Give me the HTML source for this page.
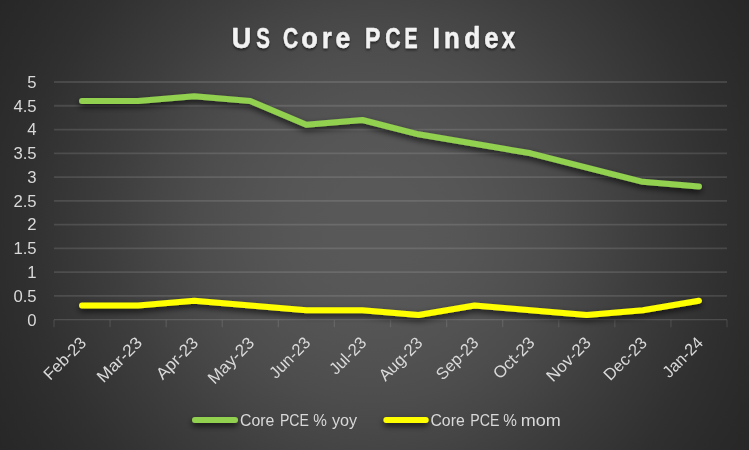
<!DOCTYPE html>
<html lang="en">
<head>
<meta charset="utf-8">
<title>US Core PCE Index</title>
<style>
html,body{margin:0;padding:0;background:#272727;}
body{width:749px;height:450px;overflow:hidden;}
#chart{display:block;width:749px;height:450px;}
text{font-family:"Liberation Sans",Arial,sans-serif;}
.ax{fill:#d9d9d9;font-size:16.7px;}
.title{fill:#f2f2f2;font-size:29.9px;font-weight:bold;stroke:#f2f2f2;stroke-width:0.5px;stroke-linejoin:round;}
.lg{fill:#d9d9d9;font-size:16.9px;}
</style>
</head>
<body>
<svg id="chart" width="749" height="450" viewBox="0 0 749 450">
<defs>
<radialGradient id="bg" gradientUnits="userSpaceOnUse" cx="374.5" cy="225" r="437">
<stop offset="0" stop-color="#585858"/>
<stop offset="0.1" stop-color="#585858"/>
<stop offset="0.2" stop-color="#565656"/>
<stop offset="0.3" stop-color="#525252"/>
<stop offset="0.4" stop-color="#4d4d4d"/>
<stop offset="0.5" stop-color="#464646"/>
<stop offset="0.6" stop-color="#3e3e3e"/>
<stop offset="0.7" stop-color="#373737"/>
<stop offset="0.8" stop-color="#303030"/>
<stop offset="0.9" stop-color="#2b2b2b"/>
<stop offset="1.0" stop-color="#272727"/>
</radialGradient>
<filter id="sh" filterUnits="userSpaceOnUse" x="0" y="0" width="749" height="450">
<feGaussianBlur in="SourceAlpha" stdDeviation="3"/>
<feOffset dx="0" dy="3"/>
<feComponentTransfer><feFuncA type="linear" slope="0.72"/></feComponentTransfer>
<feMerge><feMergeNode/><feMergeNode in="SourceGraphic"/></feMerge>
</filter>
<filter id="tsh" filterUnits="userSpaceOnUse" x="0" y="0" width="749" height="100">
<feGaussianBlur in="SourceAlpha" stdDeviation="1.2"/>
<feOffset dx="0" dy="1.5"/>
<feComponentTransfer><feFuncA type="linear" slope="0.5"/></feComponentTransfer>
<feMerge><feMergeNode/><feMergeNode in="SourceGraphic"/></feMerge>
</filter>
</defs>
<rect x="0" y="0" width="749" height="450" fill="url(#bg)"/>

<g stroke="#f2f2f2" stroke-opacity="0.13" stroke-width="1.8" fill="none">
<line x1="54.0" y1="295.93" x2="727.0" y2="295.93"/>
<line x1="54.0" y1="272.16" x2="727.0" y2="272.16"/>
<line x1="54.0" y1="248.39" x2="727.0" y2="248.39"/>
<line x1="54.0" y1="224.62" x2="727.0" y2="224.62"/>
<line x1="54.0" y1="200.85" x2="727.0" y2="200.85"/>
<line x1="54.0" y1="177.08" x2="727.0" y2="177.08"/>
<line x1="54.0" y1="153.31" x2="727.0" y2="153.31"/>
<line x1="54.0" y1="129.54" x2="727.0" y2="129.54"/>
<line x1="54.0" y1="105.77" x2="727.0" y2="105.77"/>
<line x1="54.0" y1="82.00" x2="727.0" y2="82.00"/>
</g>
<g stroke="#f2f2f2" stroke-opacity="0.15" stroke-width="1.3" fill="none">
<line x1="54.0" y1="319.7" x2="727.0" y2="319.7"/>
</g>
<g stroke="#f2f2f2" stroke-opacity="0.11" stroke-width="1.3" fill="none">
<line x1="54.00" y1="319.7" x2="54.00" y2="327.2"/>
<line x1="110.08" y1="319.7" x2="110.08" y2="327.2"/>
<line x1="166.17" y1="319.7" x2="166.17" y2="327.2"/>
<line x1="222.25" y1="319.7" x2="222.25" y2="327.2"/>
<line x1="278.33" y1="319.7" x2="278.33" y2="327.2"/>
<line x1="334.42" y1="319.7" x2="334.42" y2="327.2"/>
<line x1="390.50" y1="319.7" x2="390.50" y2="327.2"/>
<line x1="446.58" y1="319.7" x2="446.58" y2="327.2"/>
<line x1="502.67" y1="319.7" x2="502.67" y2="327.2"/>
<line x1="558.75" y1="319.7" x2="558.75" y2="327.2"/>
<line x1="614.83" y1="319.7" x2="614.83" y2="327.2"/>
<line x1="670.92" y1="319.7" x2="670.92" y2="327.2"/>
<line x1="727.00" y1="319.7" x2="727.00" y2="327.2"/>
</g>
<polyline points="82.04,101.02 138.12,101.02 194.21,96.26 250.29,101.02 306.38,124.79 362.46,120.03 418.54,134.29 474.62,143.80 530.71,153.31 586.79,167.57 642.88,181.83 698.96,186.59" fill="none" stroke="#92d050" stroke-width="6" stroke-linecap="round" stroke-linejoin="round" filter="url(#sh)"/>
<polyline points="82.04,305.44 138.12,305.44 194.21,300.68 250.29,305.44 306.38,310.19 362.46,310.19 418.54,314.95 474.62,305.44 530.71,310.19 586.79,314.95 642.88,310.19 698.96,300.68" fill="none" stroke="#ffff00" stroke-width="6" stroke-linecap="round" stroke-linejoin="round" filter="url(#sh)"/>
<g class="ax" text-anchor="end">
<text x="36.6" y="325.50">0</text>
<text x="36.6" y="301.73">0.5</text>
<text x="36.6" y="277.96">1</text>
<text x="36.6" y="254.19">1.5</text>
<text x="36.6" y="230.42">2</text>
<text x="36.6" y="206.65">2.5</text>
<text x="36.6" y="182.88">3</text>
<text x="36.6" y="159.11">3.5</text>
<text x="36.6" y="135.34">4</text>
<text x="36.6" y="111.57">4.5</text>
<text x="36.6" y="87.80">5</text>
</g>
<g class="ax">
<text transform="translate(87.14,343.90) rotate(-45)" x="-52.31" textLength="52.31" lengthAdjust="spacingAndGlyphs">Feb-23</text>
<text transform="translate(143.22,343.90) rotate(-45)" x="-56.07" textLength="56.07" lengthAdjust="spacingAndGlyphs">Mar-23</text>
<text transform="translate(199.31,343.90) rotate(-45)" x="-51.77" textLength="51.77" lengthAdjust="spacingAndGlyphs">Apr-23</text>
<text transform="translate(255.39,343.90) rotate(-45)" x="-58.01" textLength="58.01" lengthAdjust="spacingAndGlyphs">May-23</text>
<text transform="translate(311.48,343.90) rotate(-45)" x="-50.20" textLength="50.20" lengthAdjust="spacingAndGlyphs">Jun-23</text>
<text transform="translate(367.56,343.90) rotate(-45)" x="-44.68" textLength="44.68" lengthAdjust="spacingAndGlyphs">Jul-23</text>
<text transform="translate(423.64,343.90) rotate(-45)" x="-54.05" textLength="54.05" lengthAdjust="spacingAndGlyphs">Aug-23</text>
<text transform="translate(479.73,343.90) rotate(-45)" x="-52.31" textLength="52.31" lengthAdjust="spacingAndGlyphs">Sep-23</text>
<text transform="translate(535.81,343.90) rotate(-45)" x="-51.16" textLength="51.16" lengthAdjust="spacingAndGlyphs">Oct-23</text>
<text transform="translate(591.89,343.90) rotate(-45)" x="-54.98" textLength="54.98" lengthAdjust="spacingAndGlyphs">Nov-23</text>
<text transform="translate(647.98,343.90) rotate(-45)" x="-53.32" textLength="53.32" lengthAdjust="spacingAndGlyphs">Dec-23</text>
<text transform="translate(704.06,343.90) rotate(-45)" x="-49.34" textLength="49.34" lengthAdjust="spacingAndGlyphs">Jan-24</text>
</g>
<text class="title" y="47.7" filter="url(#tsh)"><tspan x="231.78" textLength="19.53" lengthAdjust="spacingAndGlyphs">U</tspan><tspan x="256.23" textLength="13.66" lengthAdjust="spacingAndGlyphs">S</tspan> <tspan x="283.09" textLength="15.16" lengthAdjust="spacingAndGlyphs">C</tspan><tspan x="301.30" textLength="16.64" lengthAdjust="spacingAndGlyphs">o</tspan><tspan x="321.97" textLength="9.84" lengthAdjust="spacingAndGlyphs">r</tspan><tspan x="335.52" textLength="14.79" lengthAdjust="spacingAndGlyphs">e</tspan> <tspan x="365.11" textLength="15.34" lengthAdjust="spacingAndGlyphs">P</tspan><tspan x="385.18" textLength="15.37" lengthAdjust="spacingAndGlyphs">C</tspan><tspan x="404.62" textLength="13.15" lengthAdjust="spacingAndGlyphs">E</tspan> <tspan x="432.57" textLength="7.47" lengthAdjust="spacingAndGlyphs">I</tspan><tspan x="443.94" textLength="15.76" lengthAdjust="spacingAndGlyphs">n</tspan><tspan x="464.13" textLength="16.11" lengthAdjust="spacingAndGlyphs">d</tspan><tspan x="484.14" textLength="14.35" lengthAdjust="spacingAndGlyphs">e</tspan><tspan x="501.65" textLength="13.45" lengthAdjust="spacingAndGlyphs">x</tspan></text>
<line x1="195" y1="420" x2="235" y2="420" stroke="#92d050" stroke-width="6" stroke-linecap="round" filter="url(#sh)"/>
<text class="lg" y="425.7"><tspan x="240.01" textLength="34.39" lengthAdjust="spacingAndGlyphs">Core</tspan> <tspan x="279.95" textLength="28.99" lengthAdjust="spacingAndGlyphs">PCE</tspan> <tspan x="313.17" textLength="13.64" lengthAdjust="spacingAndGlyphs">%</tspan> <tspan x="331.95" textLength="25.20" lengthAdjust="spacingAndGlyphs">yoy</tspan></text>
<line x1="386.4" y1="420" x2="425.7" y2="420" stroke="#ffff00" stroke-width="6" stroke-linecap="round" filter="url(#sh)"/>
<text class="lg" y="425.7"><tspan x="430.41" textLength="34.33" lengthAdjust="spacingAndGlyphs">Core</tspan> <tspan x="470.34" textLength="29.10" lengthAdjust="spacingAndGlyphs">PCE</tspan> <tspan x="503.17" textLength="13.64" lengthAdjust="spacingAndGlyphs">%</tspan> <tspan x="520.82" textLength="40.06" lengthAdjust="spacingAndGlyphs">mom</tspan></text>
</svg>
</body>
</html>
